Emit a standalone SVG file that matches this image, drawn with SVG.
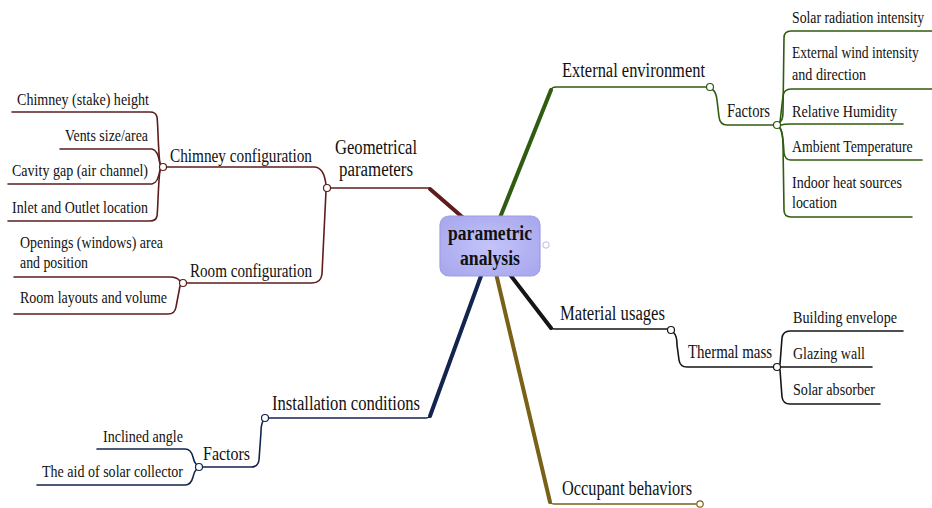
<svg xmlns="http://www.w3.org/2000/svg" width="932" height="508" viewBox="0 0 932 508">
<style>
text{font-family:"Liberation Serif","Times New Roman",serif;fill:#111;}
.l{font-size:17px;}
.s{font-size:19px;}
.m{font-size:20px;}
.c{font-size:20px;font-weight:bold;text-anchor:middle;}
.t{fill:none;stroke-width:1.6;stroke-linecap:round;stroke-linejoin:round;}
.k{fill:none;stroke-width:4;stroke-linecap:round;}
.dot{fill:#fff;stroke-width:1.2;}
.geo{stroke:#5e1c1c;}
.env{stroke:#2f5c10;}
.mat{stroke:#151515;}
.ins{stroke:#13254f;}
.occ{stroke:#7a6118;}
</style>
<defs>
<radialGradient id="cg" cx="50%" cy="50%" r="60%">
<stop offset="0" stop-color="#c4c4fa"/>
<stop offset="1" stop-color="#a9a9ee"/>
</radialGradient>
</defs>
<rect width="932" height="508" fill="#fff"/>
<g id="connectors">
<path class="k geo" d="M468,222 L430,189"/>
<path class="t geo" d="M430,188 L331,188"/>
<path class="k env" d="M497,225 L551,90"/>
<path class="t env" d="M551,90 Q552,87 556,87 L706,87"/>
<path class="k mat" d="M505,268 L551,328"/>
<path class="t mat" d="M551,328 Q552,329 555,329 L667,329"/>
<path class="k ins" d="M485,265 L430,416"/>
<path class="t ins" d="M430,416 Q429,418 426,418 L269,418"/>
<path class="k occ" d="M494,265 L550,502"/>
<path class="t occ" d="M550,502 Q551,504 554,504 L696,504"/>
<path class="t geo" d="M326,185 C325,176 322,167 314,167 L167,167"/>
<path class="t geo" d="M326,191 L322,274 Q321,283 312,283 L187,283"/>
<path class="t geo" d="M160,164 C158,150 158,122 157,117 Q156,112 150,112 L12,112"/>
<path class="t geo" d="M160,164 Q158,150 152,149 L60,149"/>
<path class="t geo" d="M160,170 Q158,183 152,184 L8,184"/>
<path class="t geo" d="M160,170 C158,185 158,210 157,216 Q156,221 150,221 L8,221"/>
<path class="t geo" d="M180,281 Q177,277 170,277 L14,277"/>
<path class="t geo" d="M180,286 L176,307 Q175,314 168,314 L14,314"/>
<path class="t env" d="M713,90 Q716,92 717,100 L719,117 Q720,125 727,125 L773,125"/>
<path class="t env" d="M780,122 Q783,120 783,112 L784,38 Q784,31 791,31 L932,31"/>
<path class="t env" d="M780,122 L783,96 Q784,89 791,89 L932,89"/>
<path class="t env" d="M781,125 Q784,124 790,124 L903,124"/>
<path class="t env" d="M780,128 Q783,133 784,153 Q785,160 791,160 L922,160"/>
<path class="t env" d="M780,128 Q783,132 783,145 L784,210 Q784,217 791,217 L912,217"/>
<path class="t mat" d="M674,333 Q677,336 677,345 L679,360 Q680,367 687,367 L773,367"/>
<path class="t mat" d="M780,364 L782,338 Q783,331 790,331 L903,331"/>
<path class="t mat" d="M781,367 L872,367"/>
<path class="t mat" d="M780,370 L782,397 Q783,404 790,404 L880,404"/>
<path class="t ins" d="M263,421 Q261,425 261,432 L259,460 Q258,467 251,467 L203,467"/>
<path class="t ins" d="M196,464 Q194,462 193,457 Q191,449 185,449 L97,449"/>
<path class="t ins" d="M196,470 Q194,472 193,477 Q191,485 185,485 L37,485"/>
</g>
<g id="center">
<rect x="440" y="216" width="100" height="60" rx="9" fill="url(#cg)" stroke="#9d9de6" stroke-width="1.2"/>
<text class="c" x="490" y="240" textLength="84" lengthAdjust="spacingAndGlyphs">parametric</text>
<text class="c" x="490" y="265" textLength="60" lengthAdjust="spacingAndGlyphs">analysis</text>
<circle cx="546" cy="245" r="3.2" fill="#fff" stroke="#b8b8e8" stroke-width="1"/>
</g>
<g id="geometrical">
<text class="m" x="335" y="154" textLength="82" lengthAdjust="spacingAndGlyphs">Geometrical</text>
<text class="m" x="339" y="176" textLength="74" lengthAdjust="spacingAndGlyphs">parameters</text>
<circle class="dot geo" cx="327" cy="188" r="3.5"/>
</g>
<g id="chimney">
<text class="s" x="170" y="162" textLength="142" lengthAdjust="spacingAndGlyphs">Chimney configuration</text>
<circle class="dot geo" cx="163" cy="167" r="3.5"/>
</g>
<g id="chimney-height"><text class="l" x="17" y="105" textLength="132" lengthAdjust="spacingAndGlyphs">Chimney (stake) height</text></g>
<g id="vents"><text class="l" x="65" y="141" textLength="83" lengthAdjust="spacingAndGlyphs">Vents size/area</text></g>
<g id="cavity"><text class="l" x="12" y="176" textLength="136" lengthAdjust="spacingAndGlyphs">Cavity gap (air channel)</text></g>
<g id="inlet"><text class="l" x="12" y="213" textLength="136" lengthAdjust="spacingAndGlyphs">Inlet and Outlet location</text></g>
<g id="room">
<text class="s" x="190" y="277" textLength="122" lengthAdjust="spacingAndGlyphs">Room configuration</text>
<circle class="dot geo" cx="183" cy="283" r="3.5"/>
</g>
<g id="openings">
<text class="l" x="20" y="248" textLength="143" lengthAdjust="spacingAndGlyphs">Openings (windows) area</text>
<text class="l" x="20" y="268" textLength="68" lengthAdjust="spacingAndGlyphs">and position</text>
</g>
<g id="layouts"><text class="l" x="20" y="303" textLength="147" lengthAdjust="spacingAndGlyphs">Room layouts and volume</text></g>
<g id="external">
<text class="m" x="562" y="77" textLength="143" lengthAdjust="spacingAndGlyphs">External environment</text>
<circle class="dot env" cx="710" cy="87" r="3.5"/>
</g>
<g id="ext-factors">
<text class="s" x="727" y="117" textLength="43" lengthAdjust="spacingAndGlyphs">Factors</text>
<circle class="dot env" cx="777" cy="125" r="3.5"/>
</g>
<g id="solar-radiation"><text class="l" transform="translate(792,23) scale(0.81,1)">Solar radiation intensity</text></g>
<g id="wind">
<text class="l" transform="translate(792,58) scale(0.8,1)">External wind intensity</text>
<text class="l" x="792" y="80" textLength="74" lengthAdjust="spacingAndGlyphs">and direction</text>
</g>
<g id="humidity"><text class="l" x="792" y="117" textLength="105" lengthAdjust="spacingAndGlyphs">Relative Humidity</text></g>
<g id="ambient"><text class="l" transform="translate(792,152) scale(0.81,1)">Ambient Temperature</text></g>
<g id="indoor">
<text class="l" x="792" y="188" textLength="110" lengthAdjust="spacingAndGlyphs">Indoor heat sources</text>
<text class="l" x="792" y="208" textLength="45" lengthAdjust="spacingAndGlyphs">location</text>
</g>
<g id="material">
<text class="m" x="560" y="320" textLength="105" lengthAdjust="spacingAndGlyphs">Material usages</text>
<circle class="dot mat" cx="671" cy="330" r="3.5" stroke="#777"/>
</g>
<g id="thermal">
<text class="s" x="688" y="358" textLength="84" lengthAdjust="spacingAndGlyphs">Thermal mass</text>
<circle class="dot mat" cx="777" cy="367" r="3.5" stroke="#777"/>
</g>
<g id="envelope"><text class="l" x="793" y="323" textLength="104" lengthAdjust="spacingAndGlyphs">Building envelope</text></g>
<g id="glazing"><text class="l" x="793" y="359" textLength="72" lengthAdjust="spacingAndGlyphs">Glazing wall</text></g>
<g id="absorber"><text class="l" x="793" y="395" textLength="82" lengthAdjust="spacingAndGlyphs">Solar absorber</text></g>
<g id="installation">
<text class="m" x="272" y="410" textLength="148" lengthAdjust="spacingAndGlyphs">Installation conditions</text>
<circle class="dot ins" cx="265" cy="418" r="3.5" stroke="#556"/>
</g>
<g id="ins-factors">
<text class="s" x="203" y="460" textLength="47" lengthAdjust="spacingAndGlyphs">Factors</text>
<circle class="dot ins" cx="199" cy="467" r="3.5" stroke="#556"/>
</g>
<g id="inclined"><text class="l" x="103" y="442" textLength="80" lengthAdjust="spacingAndGlyphs">Inclined angle</text></g>
<g id="collector"><text class="l" x="42" y="477" textLength="141" lengthAdjust="spacingAndGlyphs">The aid of solar collector</text></g>
<g id="occupant">
<text class="m" x="562" y="495" textLength="130" lengthAdjust="spacingAndGlyphs">Occupant behaviors</text>
<circle class="dot occ" cx="700" cy="504" r="3.2" stroke="#c8b890"/>
</g>
</svg>
